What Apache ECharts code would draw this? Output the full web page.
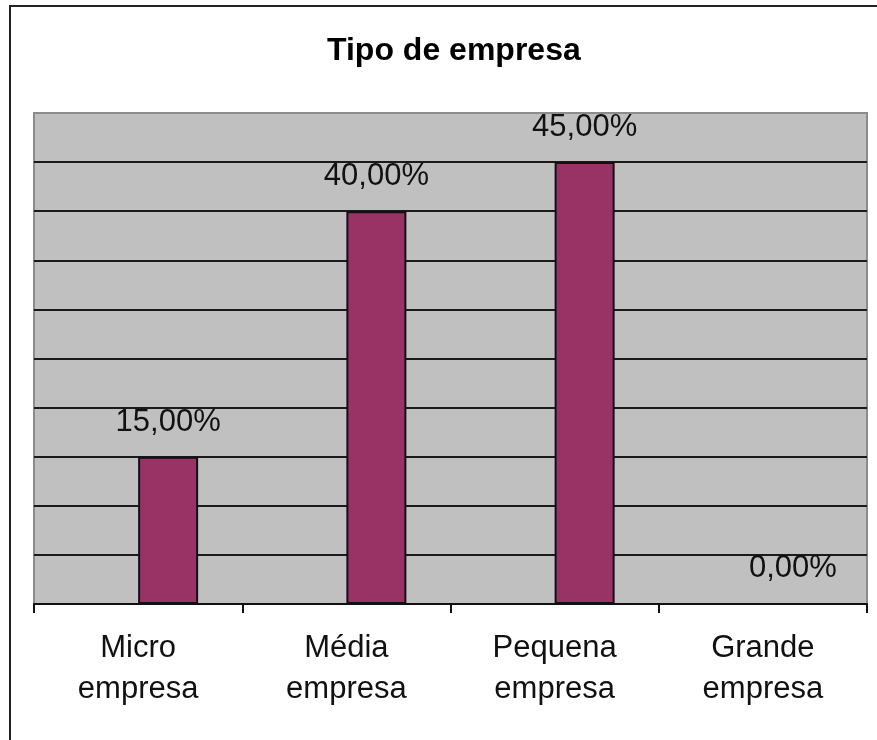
<!DOCTYPE html>
<html>
<head>
<meta charset="utf-8">
<script src="https://cdn.jsdelivr.net/npm/echarts@6/dist/echarts.min.js"></script>
<style>
html,body{margin:0;padding:0;background:#fff;}
#chart{width:877px;height:740px;}
</style>
</head>
<body>
<div id="chart"></div>
<script>
const categories = ['Micro\nempresa', 'Média\nempresa', 'Pequena\nempresa', 'Grande\nempresa'];
const emptySeriesValues = [null, null, null, null];
const tipoValues = [15, 40, 45, 0];
const yMin = 0, yMax = 50, yStep = 5;

const FONT = "'Liberation Sans', Arial, sans-serif";
const chart = echarts.init(document.getElementById('chart'));
chart.setOption({
  animation: false,
  backgroundColor: '#fff',
  title: {
    text: 'Tipo de empresa',
    left: 322,
    top: 30,
    textStyle: {fontFamily: FONT, fontSize: 32, fontWeight: 'bold', color: '#000', lineHeight: 32}
  },
  graphic: [{
    type: 'rect', silent: true, z: 100,
    shape: {x: 10, y: 6, width: 1000, height: 1000},
    style: {fill: 'none', stroke: '#222', lineWidth: 2}
  }],
  grid: {
    left: 34, right: 10, top: 113, bottom: 136,
    show: true, backgroundColor: '#C0C0C0', borderColor: '#8c8c8c', borderWidth: 2,
    containLabel: false, outerBoundsMode: 'none'
  },
  xAxis: {
    type: 'category',
    data: categories,
    boundaryGap: true,
    axisLine: {show: true, lineStyle: {color: '#111', width: 2}},
    axisTick: {show: true, length: 9, lineStyle: {color: '#111', width: 2}},
    axisLabel: {fontFamily: FONT, fontSize: 31, lineHeight: 41, color: '#111', margin: 24, interval: 0}
  },
  yAxis: {
    type: 'value',
    min: yMin, max: yMax, interval: yStep,
    axisLabel: {show: false},
    axisLine: {show: false},
    axisTick: {show: false},
    splitLine: {show: true, showMinLine: false, showMaxLine: false, lineStyle: {color: '#1a1a1a', width: 2}}
  },
  series: [
    {
      type: 'bar', name: 'empty', data: emptySeriesValues,
      barWidth: 60, barGap: '0%'
    },
    {
      type: 'bar', name: 'Tipo de empresa', data: tipoValues,
      barWidth: 60, barGap: '0%',
      itemStyle: {color: '#993366', borderColor: '#111', borderWidth: 2},
      label: {
        show: true, position: 'top', distance: 19,
        fontFamily: FONT, fontSize: 31, color: '#111',
        formatter: p => p.value.toFixed(2).replace('.', ',') + '%'
      }
    }
  ]
});
</script>
</body>
</html>
